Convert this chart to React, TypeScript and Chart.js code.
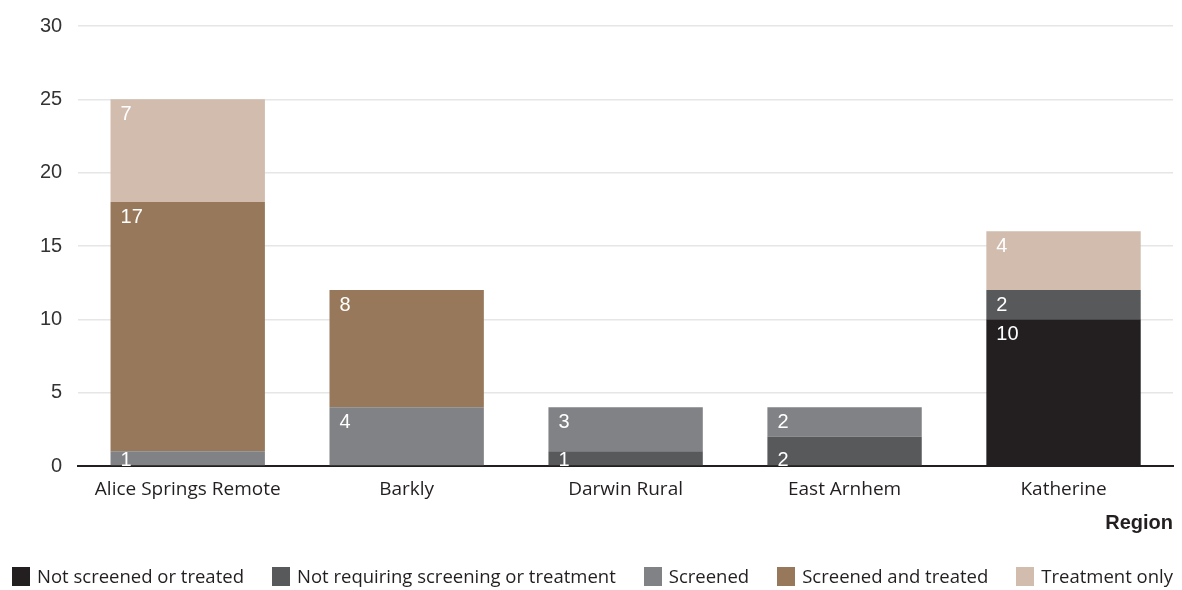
import React, { useEffect, useRef } from "react";
import { Chart, registerables } from "chart.js";

Chart.register(...registerables);

const regions = ["Alice Springs Remote", "Barkly", "Darwin Rural", "East Arnhem", "Katherine"];
const seriesNames = [
  "Not screened or treated",
  "Not requiring screening or treatment",
  "Screened",
  "Screened and treated",
  "Treatment only",
];
const notScreenedOrTreated = [0, 0, 0, 0, 10];
const notRequiring = [0, 0, 1, 2, 2];
const screened = [1, 4, 3, 2, 0];
const screenedAndTreated = [17, 8, 0, 0, 0];
const treatmentOnly = [7, 0, 0, 0, 4];
const seriesValues = [notScreenedOrTreated, notRequiring, screened, screenedAndTreated, treatmentOnly];
const seriesColors = ["#231f20", "#58595b", "#808285", "#97785a", "#d1bcae"];
const yMin = 0;
const yMax = 30;
const yStep = 5;
const xTitle = "Region";

const W = 1182;
const H = 590;

const labelPlugin = {
  id: "segmentLabels",
  afterDatasetsDraw(chart: any) {
    const { ctx, chartArea } = chart;
    ctx.save();
    ctx.beginPath();
    ctx.rect(chartArea.left, chartArea.top, chartArea.right - chartArea.left, chartArea.bottom - chartArea.top);
    ctx.clip();
    ctx.fillStyle = "#ffffff";
    ctx.font = "20px 'Liberation Sans', Arial, sans-serif";
    ctx.textAlign = "left";
    ctx.textBaseline = "alphabetic";
    chart.data.datasets.forEach((ds: any, di: number) => {
      const meta = chart.getDatasetMeta(di);
      meta.data.forEach((bar: any, j: number) => {
        const v = ds.data[j];
        if (!v) return;
        let isBottom = true;
        for (let k = 0; k < di; k++) if (chart.data.datasets[k].data[j]) isBottom = false;
        const top = Math.min(bar.y, bar.base);
        const bottom = Math.max(bar.y, bar.base);
        const h = bottom - top;
        const x = bar.x - bar.width / 2 + 10;
        const y = isBottom && h < 40 ? bottom + 1 : top + 21;
        ctx.fillText(String(v), x, y);
      });
    });
    ctx.restore();
  },
};

export default function App() {
  const ref = useRef<HTMLCanvasElement | null>(null);
  useEffect(() => {
    if (!ref.current) return;
    const chart = new Chart(ref.current, {
      type: "bar",
      data: {
        labels: regions,
        datasets: seriesNames.map((name, i) => ({
          label: name,
          data: seriesValues[i],
          backgroundColor: seriesColors[i],
          borderWidth: 0,
          barPercentage: 0.705,
          categoryPercentage: 1,
        })),
      },
      options: {
        responsive: false,
        animation: false,
        layout: { padding: { left: 24, right: 9, top: 24, bottom: 57 } },
        plugins: {
          legend: { display: false },
          tooltip: { enabled: false },
        },
        scales: {
          x: {
            stacked: true,
            grid: { display: false, drawTicks: false },
            border: { display: true, color: "#231f20", width: 2 },
            ticks: {
              color: "#231f20",
              padding: 14,
              font: { family: "'Open Sans', sans-serif", size: 19, lineHeight: 1 },
            },
            title: {
              display: true,
              text: xTitle,
              align: "end",
              color: "#231f20",
              padding: { top: 0, bottom: 0 },
              font: { family: "'Liberation Sans', Arial, sans-serif", size: 20, weight: "bold", lineHeight: 1 },
            },
          },
          y: {
            stacked: true,
            min: yMin,
            max: yMax,
            ticks: {
              stepSize: yStep,
              color: "#333333",
              padding: 16,
              font: { family: "'Liberation Sans', Arial, sans-serif", size: 20, lineHeight: 1 },
            },
            grid: { color: "#e6e6e6", drawTicks: false, lineWidth: 1.5 },
            border: { display: false },
          },
        },
      },
      plugins: [labelPlugin],
    });
    return () => chart.destroy();
  }, []);

  return (
    <div style={{ position: "fixed", left: 0, top: 0, width: W, height: H, background: "#fff" }}>
      <canvas ref={ref} width={W} height={H} style={{ position: "absolute", left: 0, top: 0 }} />
      <div
        style={{
          position: "absolute",
          left: 12,
          right: 9,
          top: 566,
          display: "flex",
          justifyContent: "space-between",
          alignItems: "center",
          fontFamily: "'Open Sans', sans-serif",
          fontSize: 18.5,
          color: "#231f20",
          lineHeight: "20px",
        }}
      >
        {seriesNames.map((name, i) => (
          <div key={name} style={{ display: "flex", alignItems: "center", whiteSpace: "nowrap" }}>
            <span style={{ display: "inline-block", width: 18, height: 19, background: seriesColors[i], marginRight: 7 }} />
            <span>{name}</span>
          </div>
        ))}
      </div>
    </div>
  );
}
